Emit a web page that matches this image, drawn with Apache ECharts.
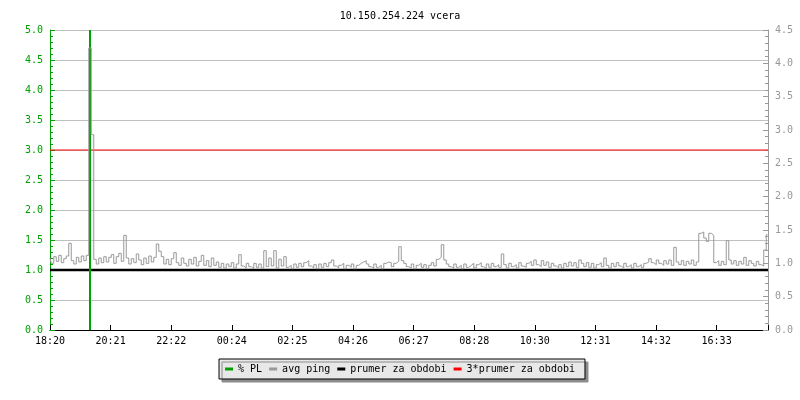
<!DOCTYPE html>
<html>
<head>
<meta charset="utf-8">
<script src="https://cdn.jsdelivr.net/npm/echarts@6/dist/echarts.min.js"></script>
<style>html,body{margin:0;padding:0;background:#fff;}#c{width:800px;height:400px;}</style>
</head>
<body>
<div id="c"></div>
<script>
// time axis: minutes since 18:20, one sample every 5 minutes
var sampleStep = 5;
var xTickLabels = ['18:20','20:21','22:22','00:24','02:25','04:26','06:27','08:28','10:30','12:31','14:32','16:33'];
var xTickInterval = 121.2;
var xMax = 1436;

// avg ping (right axis)
var avgPing = [
1.08,1.00,1.10,1.03,1.12,1.01,1.07,1.11,1.30,1.04,0.99,1.09,
1.02,1.11,1.04,1.12,4.23,2.93,1.06,0.99,1.08,1.01,1.10,1.02,
1.09,1.13,1.00,1.10,1.15,1.03,1.42,1.08,0.99,1.07,1.01,1.14,
1.05,0.98,1.08,1.00,1.11,1.02,1.09,1.29,1.18,1.10,0.99,1.06,
0.98,1.07,1.16,1.01,0.97,1.08,1.00,0.96,1.06,0.99,1.09,0.96,
1.03,1.12,0.97,1.04,0.95,1.08,0.97,1.02,0.94,1.00,0.93,0.99,
0.95,1.01,0.93,0.99,1.13,0.96,0.93,1.00,0.95,0.92,1.00,0.94,
0.99,0.93,1.19,0.95,1.08,0.96,1.19,0.93,1.06,0.96,1.10,0.94,
0.97,0.92,0.99,0.94,1.00,0.95,1.01,1.04,0.96,0.93,0.98,0.92,
0.99,0.94,1.00,0.95,1.01,1.05,0.96,0.93,0.97,1.00,0.92,0.97,
0.94,0.99,0.92,0.97,1.00,1.02,1.04,0.99,0.95,0.92,0.99,0.94,
0.97,0.92,1.00,1.02,1.01,0.95,1.00,1.03,1.25,1.04,1.00,0.95,
0.93,0.99,0.92,0.97,1.00,0.94,0.98,0.92,0.97,1.01,0.96,1.06,
1.09,1.28,1.05,0.99,0.95,0.92,0.99,0.94,0.97,0.92,0.99,0.94,
0.97,1.00,0.93,0.98,1.01,0.95,0.92,0.99,0.94,1.00,0.95,0.98,
0.94,1.14,0.98,0.93,1.00,0.95,0.98,0.93,1.01,0.96,0.94,1.00,
1.03,0.97,1.05,0.98,0.95,1.04,0.97,1.02,0.94,1.00,0.96,0.93,
0.98,0.93,1.00,0.95,1.02,0.96,1.01,0.94,1.05,1.00,0.95,1.01,
0.94,1.00,0.93,0.98,1.01,0.95,1.08,0.97,0.93,1.00,0.95,1.01,
0.96,0.93,1.00,0.95,0.98,0.93,1.00,0.95,0.98,0.94,1.00,1.02,
1.07,1.01,0.98,1.05,1.00,0.97,1.04,0.99,1.05,0.97,1.24,1.02,
0.98,1.04,0.97,1.03,0.99,1.05,0.97,1.02,1.45,1.47,1.38,1.33,
1.45,1.42,1.01,1.04,0.97,1.03,0.98,1.34,1.05,0.99,1.04,0.97,
1.03,0.99,1.09,0.97,1.04,1.00,0.96,1.03,0.98,0.96,1.20,1.43
];
// packet loss % (left axis): only one non-zero sample
var plIndex = [16];
var plValue = [5.0];
// period average and 3x average (right axis units)
var prumer = [0.9];
var prumer3 = [2.7];

var leftTicks = {min: 0, max: 5, interval: 0.5};
var rightTicks = {min: 0, max: 4.5, interval: 0.5};

var pingData = avgPing.map(function (v, i) { return [i * sampleStep, v]; });
var plData = avgPing.map(function (v, i) {
  var k = plIndex.indexOf(i);
  return [i * sampleStep, k >= 0 ? plValue[k] : 0];
});
var prumerData = [[0, prumer[0]], [xMax, prumer[0]]];
var prumer3Data = [[0, prumer3[0]], [xMax, prumer3[0]]];

var mono = 'DejaVu Sans Mono';
var green = '#00a000';
var grey = '#999999';

var chart = echarts.init(document.getElementById('c'), null, {renderer: 'canvas'});
chart.setOption({
  animation: false,
  backgroundColor: '#ffffff',
  title: {
    text: '10.150.254.224 vcera',
    left: 'center', top: 6,
    textStyle: {fontFamily: mono, fontSize: 10, fontWeight: 'normal', color: '#000'}
  },
  legend: {
    left: 'center', top: 359,
    padding: [5, 10, 5, 6],
    itemGap: 7, itemWidth: 8, itemHeight: 3,
    icon: 'rect',
    backgroundColor: '#e8e8e8',
    borderColor: '#000', borderWidth: 1,
    shadowColor: '#8c8c8c', shadowBlur: 0, shadowOffsetX: 3, shadowOffsetY: 3,
    textStyle: {fontFamily: mono, fontSize: 10, color: '#000'},
    data: ['% PL', 'avg ping', 'prumer za obdobi', '3*prumer za obdobi']
  },
  grid: {left: 50, right: 32, top: 30, bottom: 70, containLabel: false},
  xAxis: {
    type: 'value', min: 0, max: xMax, interval: xTickInterval,
    axisLine: {show: true, lineStyle: {color: '#000', width: 1}},
    axisTick: {show: true, inside: true, length: 5, lineStyle: {color: '#000'}},
    axisLabel: {
      fontFamily: mono, fontSize: 10, color: '#000', margin: 6,
      formatter: function (v) {
        var k = v / xTickInterval;
        var r = Math.round(k);
        if (Math.abs(k - r) > 0.01) return '';
        return xTickLabels[r] || '';
      }
    },
    splitLine: {show: false}
  },
  yAxis: [{
    type: 'value', position: 'left',
    min: leftTicks.min, max: leftTicks.max, interval: leftTicks.interval,
    axisLine: {show: true, lineStyle: {color: green, width: 1}},
    axisTick: {show: true, inside: true, length: 5, lineStyle: {color: green}},
    minorTick: {show: true, splitNumber: 5, length: 3, lineStyle: {color: green}},
    axisLabel: {fontFamily: mono, fontSize: 10, color: green, margin: 7,
      formatter: function (v) { return v.toFixed(1); }},
    splitLine: {show: true, lineStyle: {color: '#c0c0c0', width: 1}}
  }, {
    type: 'value', position: 'right',
    min: rightTicks.min, max: rightTicks.max, interval: rightTicks.interval,
    axisLine: {show: true, lineStyle: {color: grey, width: 1}},
    axisTick: {show: true, inside: true, length: 5, lineStyle: {color: grey}},
    minorTick: {show: true, splitNumber: 5, length: 3, lineStyle: {color: grey}},
    axisLabel: {fontFamily: mono, fontSize: 10, color: grey, margin: 7,
      formatter: function (v) { return v.toFixed(1); }},
    splitLine: {show: false}
  }],
  series: [{
    name: 'prumer za obdobi', type: 'line', yAxisIndex: 1, z: 2,
    data: prumerData, symbol: 'none', color: '#000',
    lineStyle: {color: '#000', width: 2.5}
  }, {
    name: '3*prumer za obdobi', type: 'line', yAxisIndex: 1, z: 2,
    data: prumer3Data, symbol: 'none', color: '#ff0000',
    lineStyle: {color: '#ff0000', width: 1}
  }, {
    name: '% PL', type: 'bar', yAxisIndex: 0, z: 3,
    data: plData, barWidth: 2, color: green,
    itemStyle: {color: green}
  }, {
    name: 'avg ping', type: 'line', yAxisIndex: 1, z: 4,
    data: pingData, symbol: 'none', step: 'middle', color: grey,
    lineStyle: {color: grey, width: 1}
  }]
});
</script>
</body>
</html>
